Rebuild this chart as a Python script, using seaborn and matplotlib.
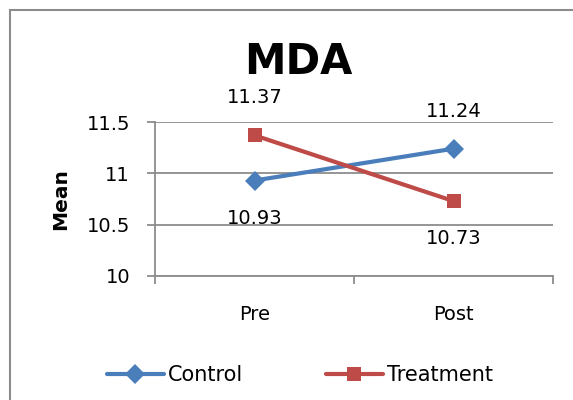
import pandas as pd
import numpy as np
import matplotlib.pyplot as plt
import seaborn as sns
from matplotlib.patches import Rectangle

# data
times = ['Pre', 'Post']
control = [10.93, 11.24]
treatment = [11.37, 10.73]
groups = ['Control', 'Treatment']
y_ticks = [10, 10.5, 11, 11.5]
y_tick_labels = ['10', '10.5', '11', '11.5']

df = pd.DataFrame({
    'Time': times * 2,
    'Mean': control + treatment,
    'Group': ['Control'] * len(times) + ['Treatment'] * len(times),
})

sns.set_style('white')
plt.rcParams['font.family'] = ['DejaVu Sans']
plt.rcParams['text.color'] = 'black'
plt.rcParams['axes.labelcolor'] = 'black'
plt.rcParams['xtick.labelcolor'] = 'black'
plt.rcParams['ytick.labelcolor'] = 'black'

colors = {'Control': '#4A7EBB', 'Treatment': '#BE4B48'}

fig = plt.figure(figsize=(5.73, 4.0), dpi=100)
ax = fig.add_axes([155 / 573, 1 - 276 / 400, 398 / 573, 154 / 400])

sns.lineplot(data=df, x='Time', y='Mean', hue='Group', style='Group',
             markers={'Control': 'D', 'Treatment': 's'}, dashes=False,
             palette=colors, linewidth=3, markersize=10, markeredgewidth=0,
             ax=ax, legend=False)

ax.set_xlim(-0.5, 1.5)
ax.set_ylim(10, 11.5)
ax.set_yticks(y_ticks)
ax.set_yticklabels(y_tick_labels)
ax.yaxis.grid(True, color='#8C8C8C', linewidth=1.3)
ax.set_axisbelow(True)

# excel style: ticks on category boundaries
ax.set_xticks([-0.5, 0.5, 1.5], minor=False)
ax.set_xticklabels([])
ax.set_xticks([0, 1], minor=True)
ax.set_xticklabels(times, minor=True)
ax.tick_params(axis='x', which='major', length=6, width=1.3, color='#8C8C8C', direction='out')
ax.tick_params(axis='x', which='minor', length=0, pad=21, labelsize=14)
ax.tick_params(axis='y', length=6, width=1.3, color='#8C8C8C', direction='out', labelsize=14, pad=12)
ax.xaxis.set_ticks_position('bottom')
ax.yaxis.set_ticks_position('left')

for side in ['top', 'right']:
    ax.spines[side].set_visible(False)
for side in ['left', 'bottom']:
    ax.spines[side].set_color('#8C8C8C')
    ax.spines[side].set_linewidth(1.3)

ax.set_xlabel('')
ax.set_ylabel('Mean', fontsize=14.5, fontweight='bold', labelpad=12)

# data labels: above for the higher series, below for the lower one
series = {'Control': control, 'Treatment': treatment}
for g, vals in series.items():
    other = treatment if g == 'Control' else control
    for i, v in enumerate(vals):
        off = 27 if v >= other[i] else -27
        ax.annotate(f'{v:.2f}', (i, v), textcoords='offset points', xytext=(0, off),
                    ha='center', va='center', fontsize=14, annotation_clip=False)

fig.text(298 / 573, 1 - 62 / 400, 'MDA', ha='center', va='center',
         fontsize=30, fontweight='bold')

handles = [plt.Line2D([], [], color=colors['Control'], marker='D', lw=3, ms=10, mew=0),
           plt.Line2D([], [], color=colors['Treatment'], marker='s', lw=3, ms=10, mew=0)]
fig.legend(handles, groups, loc='center', bbox_to_anchor=(300 / 573, 1 - 375 / 400),
           ncol=2, frameon=False, fontsize=15, handlelength=2.7,
           handletextpad=0.2, columnspacing=4.0)

# chart area border
fig.add_artist(Rectangle((10 / 573, -0.1), 1.2, 1.1 - 10 / 400, transform=fig.transFigure,
                         fill=False, edgecolor='#8C8C8C', linewidth=1.5))

fig.savefig('out.png', dpi=100)
